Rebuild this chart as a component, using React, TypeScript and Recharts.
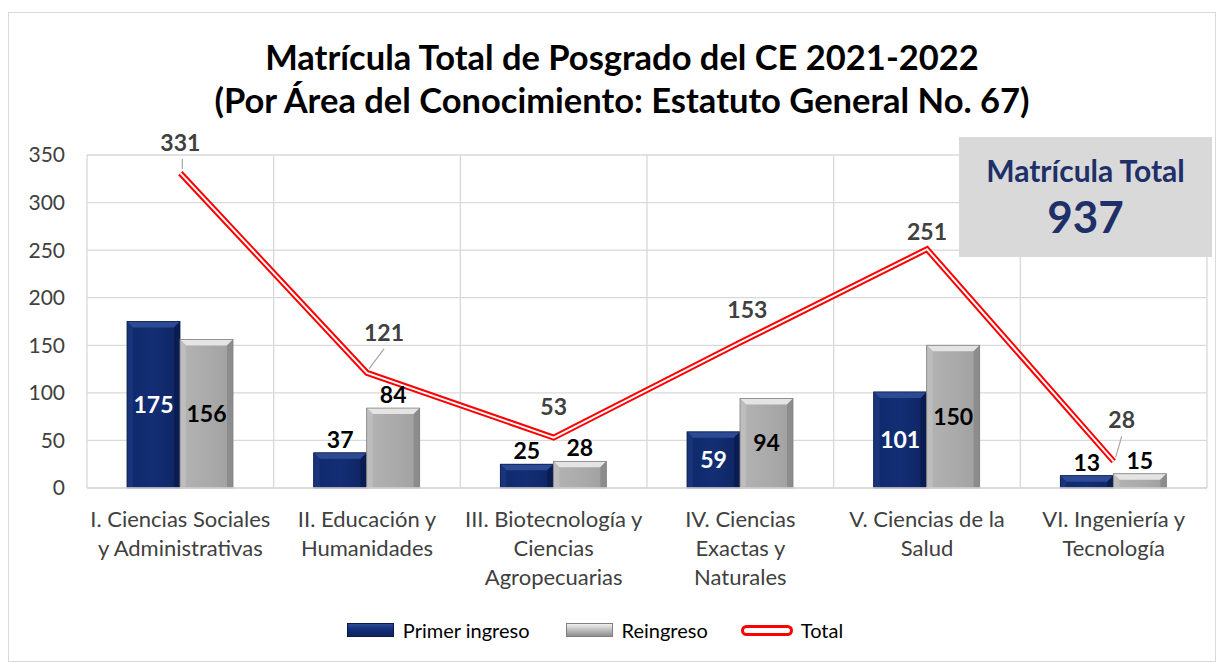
import React from "react";
import {
  Bar,
  CartesianGrid,
  ComposedChart,
  LabelList,
  Line,
  XAxis,
  YAxis,
} from "recharts";

const categories = [
  "I. Ciencias Sociales y Administrativas",
  "II. Educación y Humanidades",
  "III. Biotecnología y Ciencias Agropecuarias",
  "IV. Ciencias Exactas y Naturales",
  "V. Ciencias de la Salud",
  "VI. Ingeniería y Tecnología",
];

const categoryLines = [
  ["I. Ciencias Sociales", "y Administrativas"],
  ["II. Educación y", "Humanidades"],
  ["III. Biotecnología y", "Ciencias", "Agropecuarias"],
  ["IV. Ciencias", "Exactas y", "Naturales"],
  ["V. Ciencias de la", "Salud"],
  ["VI. Ingeniería y", "Tecnología"],
];

const primerIngreso = [175, 37, 25, 59, 101, 13];
const reingreso = [156, 84, 28, 94, 150, 15];
const total = [331, 121, 53, 153, 251, 28];
const yTicks = [0, 50, 100, 150, 200, 250, 300, 350];
const matriculaTotal = 937;

const data = categories.map((category, i) => ({
  category,
  primer: primerIngreso[i],
  reingreso: reingreso[i],
  total: total[i],
}));

// bars whose value label sits inside the bar (the rest go on top)
const insideIdx = [0, 3, 4];
// where each total label sits relative to its point
const totalLabelOffsets = [
  { dx: 0, dy: -30, lead: true },
  { dx: 17, dy: -40, lead: true },
  { dx: 0, dy: -31, lead: false },
  { dx: 7, dy: -32, lead: false },
  { dx: 0, dy: -17, lead: false },
  { dx: 8, dy: -41, lead: true },
];

const FONT = "Lato, 'Open Sans', sans-serif";
const NAVY = "#1f3069";

const BevelBar = (props: any) => {
  const { x, y, width, height, kind } = props;
  if (!height || height <= 0) return null;
  const b = Math.min(6, height / 2);
  const navy = kind === "navy";
  return (
    <g>
      <rect x={x} y={y} width={width} height={height} fill={`url(#${navy ? "gNavy" : "gGray"})`} />
      <polygon
        points={`${x},${y} ${x + width},${y} ${x + width - b},${y + b} ${x + b},${y + b}`}
        fill={navy ? "#2d4a94" : "#e4e4e4"}
      />
      <polygon
        points={`${x + width},${y} ${x + width},${y + height} ${x + width - b},${y + height} ${x + width - b},${y + b}`}
        fill={navy ? "#0a1d52" : "#8c8c8c"}
      />
      <polygon
        points={`${x},${y} ${x + b},${y + b} ${x + b},${y + height} ${x},${y + height}`}
        fill={navy ? "#193478" : "#bdbdbd"}
      />
      <rect
        x={x}
        y={y}
        width={width}
        height={height}
        fill="none"
        stroke={navy ? "#0a1a48" : "#7f7f7f"}
        strokeWidth={0.8}
      />
    </g>
  );
};

const makeBarLabel = (insideColor: string) => (props: any) => {
  const { x, y, width, height, value, index } = props;
  const inside = insideIdx.includes(index);
  const cx = x + width / 2;
  const cy = inside ? y + height / 2 : y - 13;
  return (
    <text
      x={cx}
      y={cy}
      dy="0.35em"
      textAnchor="middle"
      fontFamily={FONT}
      fontWeight={700}
      fontSize={23}
      fill={inside ? insideColor : "#000"}
    >
      {value}
    </text>
  );
};

const TotalLabel = (props: any) => {
  const { x, y, value, index } = props;
  const o = totalLabelOffsets[index] ?? { dx: 0, dy: -30, lead: false };
  const tx = x + o.dx;
  const ty = y + o.dy;
  return (
    <g>
      {o.lead && (
        <line x1={x + 2} y1={y - 4} x2={tx + (o.dx ? 0 : 2)} y2={ty + 16} stroke="#a6a6a6" strokeWidth={1.2} />
      )}
      <text
        x={tx}
        y={ty}
        dy="0.35em"
        textAnchor="middle"
        fontFamily={FONT}
        fontWeight={700}
        fontSize={23}
        fill="#404040"
      >
        {value}
      </text>
    </g>
  );
};

const CategoryTick = (props: any) => {
  const { x, y, payload } = props;
  const idx = categories.indexOf(payload.value);
  const lines = categoryLines[idx] ?? [payload.value];
  return (
    <text x={x} y={y + 37} textAnchor="middle" fontFamily={FONT} fontSize={22} fill="#404040">
      {lines.map((l, i) => (
        <tspan key={i} x={x} dy={i === 0 ? 0 : 29}>
          {l}
        </tspan>
      ))}
    </text>
  );
};

const Swatch = ({ kind }: { kind: string }) => {
  if (kind === "line") {
    return (
      <span
        style={{
          display: "inline-block",
          width: 46,
          height: 5,
          border: "3px solid #ff0000",
          borderRadius: 6,
          background: "#fff",
        }}
      />
    );
  }
  const navy = kind === "navy";
  return (
    <span
      style={{
        display: "inline-block",
        width: 45,
        height: 12,
        background: navy
          ? "linear-gradient(#2d4a94, #14307a 40%, #0c2260)"
          : "linear-gradient(#f0f0f0, #c8c8c8 40%, #8f8f8f)",
        border: `1px solid ${navy ? "#0a1a48" : "#7f7f7f"}`,
      }}
    />
  );
};

export default function App() {
  return (
    <div
      style={{
        position: "relative",
        width: 1206,
        height: 648,
        marginTop: 4,
        border: "1px solid #d9d9d9",
        background: "#fff",
        fontFamily: FONT,
      }}
    >
      <ComposedChart
        width={1206}
        height={648}
        data={data}
        margin={{ top: 142, right: 8, left: 0, bottom: 0 }}
        barGap={0}
      >
        <defs>
          <linearGradient id="gNavy" x1="0" y1="0" x2="1" y2="0">
            <stop offset="0%" stopColor="#10296c" />
            <stop offset="50%" stopColor="#132e74" />
            <stop offset="100%" stopColor="#0e2562" />
          </linearGradient>
          <linearGradient id="gGray" x1="0" y1="0" x2="1" y2="0">
            <stop offset="0%" stopColor="#b3b3b3" />
            <stop offset="50%" stopColor="#ababab" />
            <stop offset="100%" stopColor="#a0a0a0" />
          </linearGradient>
        </defs>
        <CartesianGrid
          stroke="#d9d9d9"
          strokeWidth={1.3}
          verticalCoordinatesGenerator={({ offset }: any) =>
            categories.map((_, i) => offset.left + (i * offset.width) / categories.length).concat([offset.left + offset.width])
          }
        />
        <XAxis
          dataKey="category"
          interval={0}
          height={173}
          tickLine={false}
          tickSize={0}
          axisLine={{ stroke: "#d9d9d9", strokeWidth: 1.3 }}
          tick={<CategoryTick />}
        />
        <YAxis
          width={78}
          domain={[0, 350]}
          ticks={yTicks}
          axisLine={false}
          tickLine={false}
          tickSize={0}
          tickMargin={22}
          tick={{ fontFamily: FONT, fontSize: 21, fill: "#404040" }}
        />
        <Bar
          dataKey="primer"
          name="Primer ingreso"
          barSize={53}
          shape={(p: any) => <BevelBar {...p} kind="navy" />}
          isAnimationActive={false}
        >
          <LabelList dataKey="primer" content={makeBarLabel("#ffffff")} />
        </Bar>
        <Bar
          dataKey="reingreso"
          name="Reingreso"
          barSize={53}
          shape={(p: any) => <BevelBar {...p} kind="gray" />}
          isAnimationActive={false}
        >
          <LabelList dataKey="reingreso" content={makeBarLabel("#000000")} />
        </Bar>
        <Line
          dataKey="total"
          name="Total"
          type="linear"
          stroke="#ff0000"
          strokeWidth={6}
          dot={false}
          activeDot={false}
          isAnimationActive={false}
        >
          <LabelList dataKey="total" content={TotalLabel} />
        </Line>
        <Line
          dataKey="total"
          legendType="none"
          type="linear"
          stroke="#ffffff"
          strokeWidth={2}
          dot={false}
          activeDot={false}
          isAnimationActive={false}
        />
      </ComposedChart>

      <div
        style={{
          position: "absolute",
          top: 22,
          left: 0,
          width: 1226,
          textAlign: "center",
          fontWeight: 700,
          fontSize: 34.5,
          lineHeight: "43px",
          color: "#000",
        }}
      >
        <div>Matrícula Total de Posgrado del CE 2021-2022</div>
        <div>(Por Área del Conocimiento: Estatuto General No. 67)</div>
      </div>

      <div
        style={{
          position: "absolute",
          left: 950,
          top: 124,
          width: 253,
          height: 120,
          background: "#d9d9d9",
          color: NAVY,
          textAlign: "center",
          fontWeight: 700,
        }}
      >
        <div style={{ fontSize: 30, lineHeight: "32px", marginTop: 17 }}>Matrícula Total</div>
        <div style={{ fontSize: 44, lineHeight: "52px", marginTop: 4 }}>{matriculaTotal}</div>
      </div>

      <div
        style={{
          position: "absolute",
          top: 604,
          left: 0,
          width: 1172,
          display: "flex",
          justifyContent: "center",
          alignItems: "center",
          fontSize: 20,
          color: "#000",
          height: 26,
        }}
      >
        <span style={{ display: "flex", alignItems: "center", marginRight: 36 }}>
          <Swatch kind="navy" />
          <span style={{ marginLeft: 9 }}>Primer ingreso</span>
        </span>
        <span style={{ display: "flex", alignItems: "center", marginRight: 33 }}>
          <Swatch kind="gray" />
          <span style={{ marginLeft: 9 }}>Reingreso</span>
        </span>
        <span style={{ display: "flex", alignItems: "center" }}>
          <Swatch kind="line" />
          <span style={{ marginLeft: 8 }}>Total</span>
        </span>
      </div>
    </div>
  );
}
